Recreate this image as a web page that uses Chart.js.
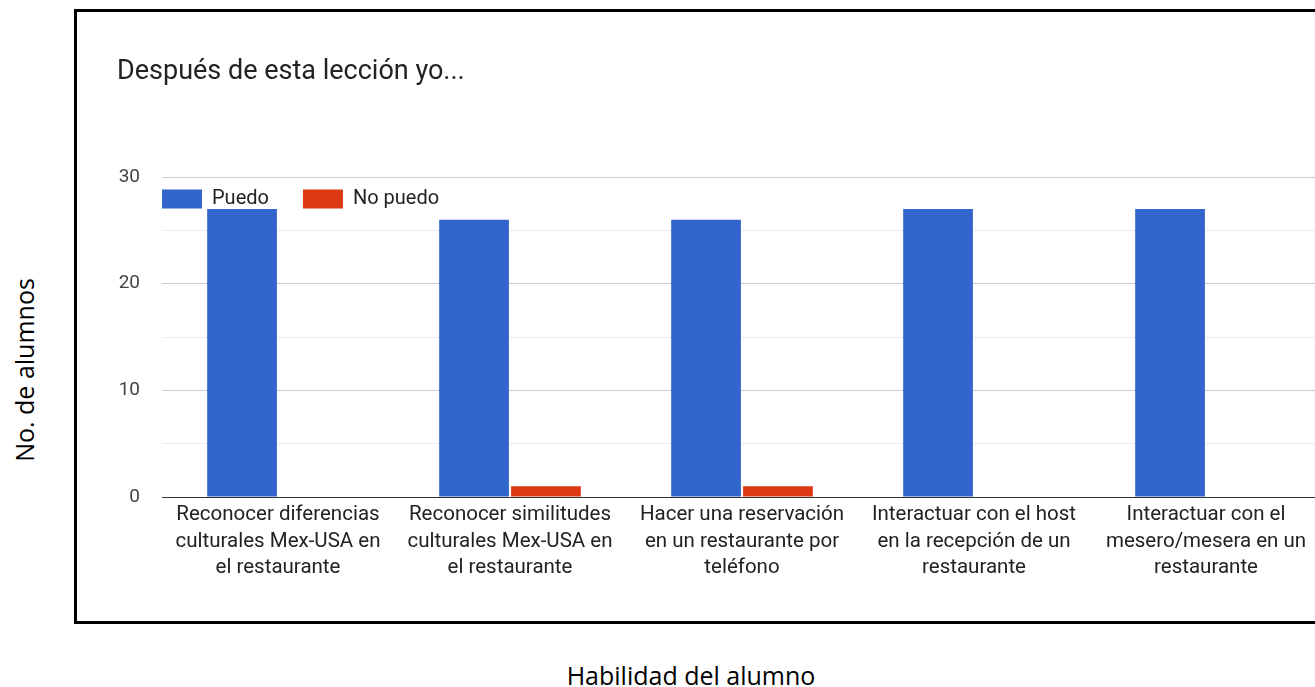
<!DOCTYPE html>
<html lang="es">
<head>
<meta charset="utf-8">
<title>Después de esta lección yo...</title>
<script src="https://cdn.jsdelivr.net/npm/chart.js@4.4.1/dist/chart.umd.min.js"></script>
<style>
  html, body { margin: 0; padding: 0; background: #fff; overflow: hidden; }
  body { width: 1315px; height: 687px; position: relative; }
  #frame { position: absolute; left: 74px; top: 9px; width: 1262px; height: 609px; border: 3px solid #000; }
  #chart { display: block; }
  .axis-title { position: absolute; font-family: "Open Sans", sans-serif; font-size: 25px; color: #000; white-space: nowrap; }
  #y-title { left: 24px; top: 370px; transform: translate(-50%, -50%) rotate(-90deg); }
  #x-title { left: 691px; top: 675px; transform: translate(-50%, -50%); }
</style>
</head>
<body>
<div id="frame"><canvas id="chart" width="1262" height="609"></canvas></div>
<div class="axis-title" id="y-title">No. de alumnos</div>
<div class="axis-title" id="x-title">Habilidad del alumno</div>

<script>
const TITLE = 'Después de esta lección yo...';

const categories = [
  ['Reconocer diferencias', 'culturales Mex-USA en', 'el restaurante'],
  ['Reconocer similitudes', 'culturales Mex-USA en', 'el restaurante'],
  ['Hacer una reservación', 'en un restaurante por', 'teléfono'],
  ['Interactuar con el host', 'en la recepción de un', 'restaurante'],
  ['Interactuar con el', 'mesero/mesera en un', 'restaurante'],
];

const puedo   = [27, 26, 26, 27, 27];
const noPuedo = [0, 1, 1, 0, 0];

const Y_MAX = 30;
const Y_STEP = 5;
const yLabelled = [0, 10, 20, 30];

const BLUE = '#3366cc';
const RED  = '#dc3912';

Chart.defaults.font.family = 'Roboto, "Noto Sans", sans-serif';

// legend sits inside the plot, just under the top gridline
const legendInPlot = {
  id: 'legendInPlot',
  afterLayout(chart) {
    const lg = chart.legend;
    const pad = lg.options.labels.padding;
    const dx = (chart.chartArea.left - pad) - lg.left;
    const dy = (chart.chartArea.top + 12 - pad) - lg.top;
    lg.left += dx; lg.right += dx;
    lg.top += dy; lg.bottom += dy;
  }
};

function gridColor(ctx) {
  const v = ctx.tick && ctx.tick.value;
  if (v === 0) return '#333333';
  return v % 10 === 0 ? '#cccccc' : '#ebebeb';
}

new Chart(document.getElementById('chart'), {
  type: 'bar',
  data: {
    labels: categories,
    datasets: [
      { label: 'Puedo', data: puedo, backgroundColor: BLUE },
      { label: 'No puedo', data: noPuedo, backgroundColor: RED },
    ],
  },
  options: {
    responsive: false,
    animation: false,
    devicePixelRatio: 1,
    categoryPercentage: 0.62,
    barPercentage: 0.97,
    layout: { padding: { left: 40, right: 17, top: 0, bottom: 0 } },
    plugins: {
      title: {
        display: true,
        text: TITLE,
        align: 'start',
        color: '#222222',
        font: { size: 27, weight: 'normal', lineHeight: 1.2 },
        padding: { top: 43.8, bottom: 24.8 },
      },
      legend: {
        position: 'top',
        align: 'start',
        labels: {
          boxWidth: 40,
          boxHeight: 19,
          padding: 34,
          color: '#222222',
          font: { size: 20 },
        },
      },
      tooltip: { enabled: false },
    },
    scales: {
      x: {
        grid: { display: false, drawTicks: false },
        border: { display: false },
        ticks: {
          color: '#222222',
          font: { size: 20.5, lineHeight: 1.29 },
          padding: 5,
          maxRotation: 0,
          autoSkip: false,
        },
        afterFit(scale) {
          scale.height = 124;
          scale.paddingLeft = 0;
          scale.paddingRight = 0;
        },
      },
      y: {
        min: 0,
        max: Y_MAX,
        border: { display: false },
        grid: { color: gridColor, lineWidth: 1, drawTicks: false },
        ticks: {
          stepSize: Y_STEP,
          color: '#444444',
          font: { size: 19 },
          padding: 22,
          callback: v => yLabelled.includes(v) ? String(v) : '',
        },
        afterFit(scale) { scale.width = 45; },
      },
    },
  },
  plugins: [legendInPlot],
});
</script>
</body>
</html>
